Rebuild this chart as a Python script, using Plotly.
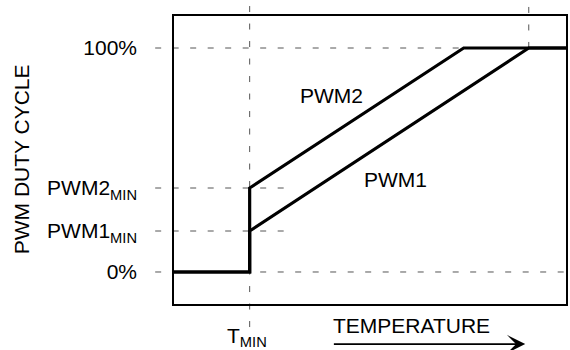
import plotly.graph_objects as go

# temperature axis in arbitrary units (0..100 across the frame)
t_min = 19.3
t_pwm2_full = 73.9
t_pwm1_full = 90.5
t_max = 100

pwm1_min = 18.3   # % duty
pwm2_min = 37.5   # % duty

pwm1_x = [0, t_min, t_min, t_pwm1_full, t_max]
pwm1_y = [0, 0, pwm1_min, 100, 100]
pwm2_x = [0, t_min, t_min, t_pwm2_full, t_max]
pwm2_y = [0, 0, pwm2_min, 100, 100]

tick_vals = [0, pwm1_min, pwm2_min, 100]
tick_text = ["0%", "PWM1<sub>MIN</sub>", "PWM2<sub>MIN</sub>", "100%"]

FONT = "Liberation Sans, Arial, sans-serif"
FS = 21
DASH = dict(color="#555555", width=1, dash="6px,11.5px")

fig = go.Figure()

for name, xs, ys in [("PWM1", pwm1_x, pwm1_y), ("PWM2", pwm2_x, pwm2_y)]:
    fig.add_trace(go.Scatter(
        x=xs, y=ys, mode="lines", name=name,
        line=dict(color="black", width=3.2),
        showlegend=False, hoverinfo="skip"
    ))

# dashed guide lines
shapes = []
shapes.append(dict(type="line", xref="x", yref="paper", x0=t_min, x1=t_min,
                   y0=-0.08, y1=1.038, line=DASH, layer="below"))
shapes.append(dict(type="line", xref="x", yref="paper", x0=t_pwm1_full, x1=t_pwm1_full,
                   y0=0.889, y1=1.056, line=DASH, layer="below"))
shapes.append(dict(type="line", xref="paper", yref="y", x0=-0.048, x1=1, y0=100, y1=100,
                   line=DASH, layer="below"))
shapes.append(dict(type="line", xref="paper", yref="y", x0=-0.048, x1=1, y0=0, y1=0,
                   line=DASH, layer="below"))
for v in [pwm1_min, pwm2_min]:
    shapes.append(dict(type="line", xref="paper", yref="y", x0=-0.048, x1=0.28, y0=v, y1=v,
                       line=DASH, layer="below"))

annotations = [
    dict(text="PWM2", x=40.1, y=78.6, xref="x", yref="y", showarrow=False),
    dict(text="PWM1", x=56.6, y=41.1, xref="x", yref="y", showarrow=False),
    dict(text="T<sub>MIN</sub>", x=t_min - 0.8, y=-0.115, xref="x", yref="paper",
         showarrow=False, xanchor="center", yanchor="middle"),
    dict(text="TEMPERATURE", x=60.5, y=-0.076, xref="x", yref="paper",
         showarrow=False, xanchor="center", yanchor="middle"),
    dict(text="PWM DUTY CYCLE", x=-0.39, y=0.503, xref="paper", yref="paper",
         showarrow=False, textangle=-90, xanchor="center", yanchor="middle"),
    dict(text="", x=89.6, y=-0.139, xref="x", yref="paper",
         ax=40.4, axref="x", ay=0, ayref="pixel",
         showarrow=True, arrowhead=3, arrowwidth=1.8, arrowsize=1.7, arrowcolor="black"),
]

axis_common = dict(showgrid=False, zeroline=False, showline=True, mirror=True,
                   linecolor="black", linewidth=1.5, ticks="", fixedrange=True)

fig.update_layout(
    width=570, height=350,
    margin=dict(l=174, r=2, t=16, b=46),
    paper_bgcolor="white", plot_bgcolor="white",
    font=dict(family=FONT, size=FS, color="black"),
    xaxis=dict(range=[0, 100], showticklabels=False, **axis_common),
    yaxis=dict(range=[-14.29, 114.29], tickvals=tick_vals, ticktext=tick_text,
               ticklabelstandoff=31, **axis_common),
    shapes=shapes,
    annotations=annotations,
)

# drop the page's default body margin so the 570x350 figure fills the window
fig.write_html("out.html", config={"displayModeBar": False},
               post_script="document.body.style.margin='0';document.body.style.overflow='hidden';")
